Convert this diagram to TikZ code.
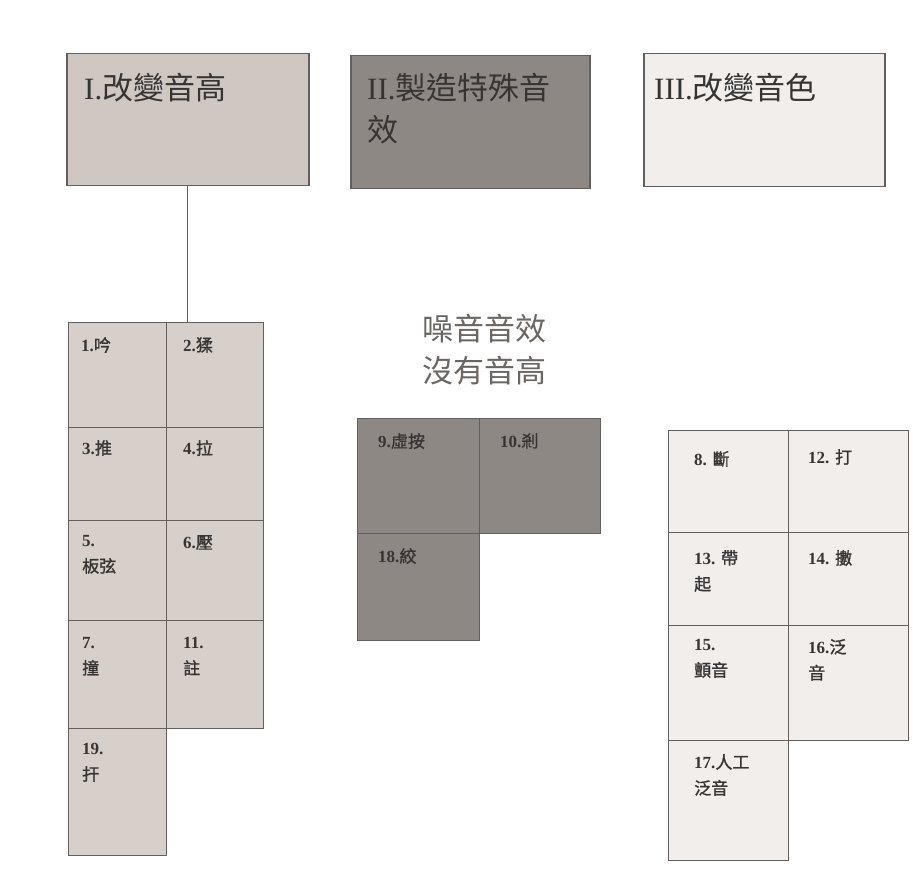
\documentclass[tikz,border=0pt]{standalone}
\usepackage{fontspec}
\setmainfont{Liberation Serif}
\newfontfamily\cjk{Noto Sans CJK TC}
\newfontfamily\cjkb[FakeBold=1.2]{Noto Sans CJK TC}
\newcommand{\zh}[1]{{\cjk #1}}
\newcommand{\zb}[1]{{\cjkb #1}}
\definecolor{linec}{RGB}{98,96,94}
\definecolor{fillA}{RGB}{206,199,194}
\definecolor{fillB}{RGB}{141,136,131}
\definecolor{fillC}{RGB}{241,238,236}
\definecolor{fillL}{RGB}{214,207,202}
\definecolor{txtc}{RGB}{55,53,51}
\definecolor{noisec}{RGB}{105,103,101}
\tikzset{
  hbox/.style={draw=linec, line width=1.5pt, anchor=north west, inner sep=0pt,
    minimum width=#1},
  cell/.style={draw=linec, line width=1.4pt, anchor=north west, inner sep=0pt},
  htxt/.style={anchor=north west, inner sep=0pt, align=left, text=txtc,
    font=\fontsize{31}{42}\selectfont},
  ctxt/.style={anchor=north west, inner sep=0pt, align=left, text=txtc,
    font=\fontsize{17}{26}\selectfont},
  conn/.style={draw=linec, line width=1.4pt},
}
\newcommand{\cellat}[9]{% name, x, y, w, h, fill, dx, dy, text
  \node[cell, fill=#6, minimum width=#4pt, minimum height=#5pt] (#1) at (#2,#3) {};
  \node[ctxt] (#1t) at ([xshift=#7pt,yshift=-#8pt]#1.north west) {#9};
}
\begin{document}
\begin{tikzpicture}[x=1pt,y=-1pt]
\useasboundingbox[fill=white] (0,0) rectangle (918,877);
% header boxes
\node[hbox=242pt, minimum height=132pt, fill=fillA] (b1) at (66,53) {};
\node[htxt] (b1t) at ([xshift=18pt,yshift=-20pt]b1.north west) {I.\zh{改變音高}};
\node[hbox=239pt, minimum height=133pt, fill=fillB] (b2) at (350,55) {};
\node[htxt] (b2t) at ([xshift=17pt,yshift=-18pt]b2.north west) {II.\zh{製造特殊音}\\\zh{效}};
\node[hbox=241pt, minimum height=133pt, fill=fillC] (b3) at (643,53) {};
\node[htxt] (b3t) at ([xshift=11pt,yshift=-20pt]b3.north west) {III.\zh{改變音色}};
% left grid
\cellat{c1}{68}{322}{98}{105}{fillL}{13}{15}{\textbf{1.}\zb{吟}}
\cellat{c2}{166}{322}{97}{105}{fillL}{17}{15}{\textbf{2.}\zb{猱}}
\cellat{c3}{68}{427}{98}{93}{fillL}{14}{13}{\textbf{3.}\zb{推}}
\cellat{c4}{166}{427}{97}{93}{fillL}{17}{13}{\textbf{4.}\zb{拉}}
\cellat{c5}{68}{520}{98}{100}{fillL}{14}{15}{\textbf{5.}\\\zb{板弦}}
\cellat{c6}{166}{520}{97}{100}{fillL}{17}{15}{\textbf{6.}\zb{壓}}
\cellat{c7}{68}{620}{98}{108}{fillL}{14}{17}{\textbf{7.}\\\zb{撞}}
\cellat{c11}{166}{620}{97}{108}{fillL}{17}{17}{\textbf{11.}\\\zb{註}}
\cellat{c19}{68}{728}{98}{127}{fillL}{14}{15}{\textbf{19.}\\\zb{扞}}
\draw[conn] (b1.south) -- (b1.south |- c1.north);
% noise label
\node[align=center, text=noisec, font=\fontsize{31}{42}\selectfont, inner sep=0pt] (noise) at (484,350) {\zh{噪音音效}\\\zh{沒有音高}};
% middle grid
\cellat{m9}{357}{418}{122}{115}{fillB}{21}{15}{\textbf{9.}\zb{虛按}}
\cellat{m10}{479}{418}{121}{115}{fillB}{21}{15}{\textbf{10.}\zb{剎}}
\cellat{m18}{357}{533}{122}{107}{fillB}{21}{15}{\textbf{18.}\zb{絞}}
% right grid
\cellat{r8}{668}{430}{120}{102}{fillC}{26}{21}{\textbf{8.} \zb{斷}}
\cellat{r12}{788}{430}{120}{102}{fillC}{20}{19}{\textbf{12.} \zb{打}}
\cellat{r13}{668}{532}{120}{93}{fillC}{26}{18}{\textbf{13.} \zb{帶}\\\zb{起}}
\cellat{r14}{788}{532}{120}{93}{fillC}{20}{18}{\textbf{14.} \zb{擻}}
\cellat{r15}{668}{625}{120}{115}{fillC}{26}{14}{\textbf{15.}\\\zb{顫音}}
\cellat{r16}{788}{625}{120}{115}{fillC}{20}{14}{\textbf{16.}\zb{泛}\\\zb{音}}
\cellat{r17}{668}{740}{120}{120}{fillC}{26}{14}{\textbf{17.}\zb{人工}\\\zb{泛音}}
\end{tikzpicture}
\end{document}
